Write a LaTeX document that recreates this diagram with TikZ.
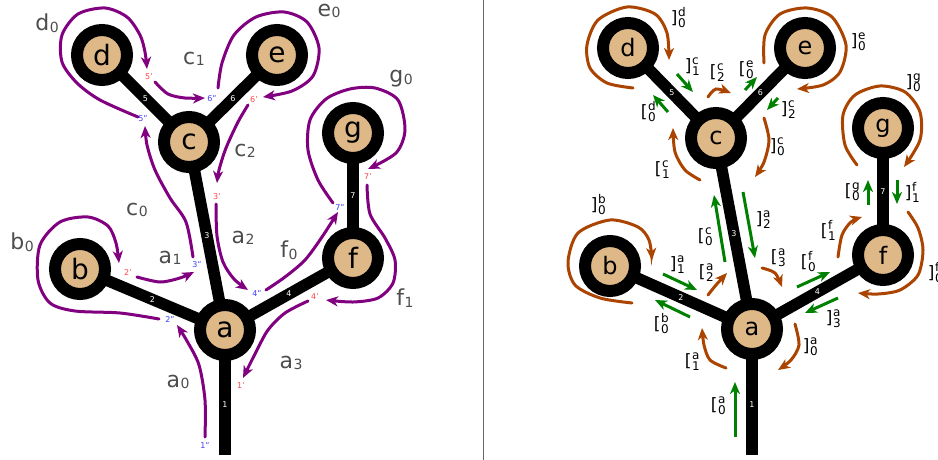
\documentclass[tikz,border=0pt]{standalone}
\usepackage{fontspec}
\setmainfont{DejaVu Sans}
\usetikzlibrary{arrows.meta,backgrounds}
\definecolor{nodetan}{RGB}{222,184,135}
\definecolor{tpurple}{RGB}{128,0,128}
\definecolor{tgreen}{RGB}{0,128,0}
\definecolor{torange}{RGB}{170,68,0}
\definecolor{labgray}{RGB}{77,77,77}
\definecolor{tred}{RGB}{255,70,70}
\definecolor{tblue}{RGB}{60,60,255}
\newcommand{\bk}[3]{#1\kern0.5pt\makebox[0pt][l]{\raisebox{7pt}{\fontsize{12}{12}\selectfont #2}}\makebox[7pt][l]{\raisebox{-4pt}{\fontsize{12}{12}\selectfont #3}}}
\newcommand{\gs}[2]{#1\kern0.5pt\raisebox{-1.5pt}{\fontsize{14}{14}\selectfont #2}}
\begin{document}
\begin{tikzpicture}[x=1pt,y=-1pt,
  vtxl/.style={circle, fill=nodetan, draw=black, line width=12pt, minimum size=50pt, inner sep=0pt, font=\fontsize{28}{28}\selectfont},
  vtxr/.style={vtxl, font=\fontsize{24}{24}\selectfont},
  edg/.style={line width=11.5pt, draw=black},
  elab/.style={text=white, font=\fontsize{8}{8}\selectfont, inner sep=0pt},
  glab/.style={text=labgray, font=\fontsize{22}{22}\selectfont, inner sep=0pt},
  tlr/.style={text=tred, font=\fontsize{8}{8}\selectfont, inner sep=0pt},
  tlb/.style={text=tblue, font=\fontsize{8}{8}\selectfont, inner sep=0pt},
  blab/.style={text=black, font=\fontsize{17}{17}\selectfont, inner sep=0pt},
  tip/.style={-{Stealth[length=12pt,width=10pt,inset=3.5pt]}},
  pur/.style={draw=tpurple, line width=3pt, tip, line cap=round},
  grn/.style={draw=tgreen, line width=3pt, tip},
  org/.style={draw=torange, line width=3pt, tip, line cap=round}]
\useasboundingbox (0,0) rectangle (938,460);
\draw[black!60, line width=1pt] (483,0) -- (483,460);

% ---------------- left tree ----------------
\node[vtxl] (la) at (225,330) {a};
\node[vtxl] (lb) at (80,269) {b};
\node[vtxl] (lc) at (189,142) {c};
\node[vtxl] (ld) at (102,55) {d};
\node[vtxl] (le) at (277,55) {e};
\node[vtxl] (lf) at (353,258) {f};
\node[vtxl] (lg) at (353,133) {g};
\coordinate (l1) at (225,455);
\begin{scope}[on background layer]
\draw[edg] (la.center) -- (l1) node[pos=0.6, elab] {1};
\draw[edg] (la.center) -- (lb.center) node[midway, elab] {2};
\draw[edg] (la.center) -- (lc.center) node[midway, elab] {3};
\draw[edg] (la.center) -- (lf.center) node[midway, elab] {4};
\draw[edg] (lc.center) -- (ld.center) node[midway, elab] {5};
\draw[edg] (lc.center) -- (le.center) node[midway, elab] {6};
\draw[edg] (lf.center) -- (lg.center) node[midway, elab] {7};
\end{scope}

% purple tour
\draw[pur] plot[smooth] coordinates {(205,437) (205,400) (199,365) (187,341) (177,325)};
\draw[pur] plot[smooth] coordinates {(159,319) (120,313) (75,311) (50,303) (38,280) (40,245) (60,222) (88,217) (108,226) (116,243) (119,263)};
\draw[pur] plot[smooth] coordinates {(137,277) (160,282) (180,278) (194,272)};
\draw[pur] plot[smooth] coordinates {(193,257) (186,222) (170,198) (155,170) (147,145) (145,126)};
\draw[pur] plot[smooth] coordinates {(138,117) (100,100) (77,83) (62,62) (62,35) (78,14) (105,8) (127,17) (140,35) (145,52) (147,69)};
\draw[pur] plot[smooth] coordinates {(155,82) (168,94) (185,98) (205,98)};
\draw[pur] plot[smooth] coordinates {(218,88) (222,63) (234,35) (256,17) (284,12) (307,22) (319,48) (313,76) (292,91) (263,97)};
\draw[pur] plot[smooth] coordinates {(248,105) (238,122) (226,148) (219,170) (217,183)};
\draw[pur] plot[smooth] coordinates {(216,204) (217,236) (223,262) (234,279) (248,290)};
\draw[pur] plot[smooth] coordinates {(266,290) (285,277) (305,260) (322,237) (338,212)};
\draw[pur] plot[smooth] coordinates {(333,203) (318,180) (308,150) (310,120) (326,99) (350,89) (375,88) (398,100) (405,130) (396,153) (368,169)};
\draw[pur] plot[smooth] coordinates {(367,185) (370,214) (385,238) (395,260) (393,283) (378,298) (353,302) (326,300)};
\draw[pur] plot[smooth] coordinates {(308,301) (285,313) (268,330) (256,352) (243,378)};

% small end labels
\node[tlb] (p1b) at (205,446) {1''};
\node[tlr] (p1r) at (241,386) {1'};
\node[tlb] (p2b) at (170,320) {2''};
\node[tlr] (p2r) at (128,273) {2'};
\node[tlb] (p3b) at (197,265) {3''};
\node[tlr] (p3r) at (217,197) {3'};
\node[tlb] (p4b) at (257,294) {4''};
\node[tlr] (p4r) at (315,297) {4'};
\node[tlb] (p5b) at (143,119) {5''};
\node[tlr] (p5r) at (149,77) {5'};
\node[tlb] (p6b) at (212,99) {6''};
\node[tlr] (p6r) at (254,100) {6'};
\node[tlb] (p7b) at (340,208) {7''};
\node[tlr] (p7r) at (368,177) {7'};

% gray labels
\node[glab] (gd0) at (47,23) {\gs{d}{0}};
\node[glab] (gc1) at (194,59) {\gs{c}{1}};
\node[glab] (ge0) at (329,11) {\gs{e}{0}};
\node[glab] (gg0) at (401,79) {\gs{g}{0}};
\node[glab] (gc2) at (245,151) {\gs{c}{2}};
\node[glab] (gc0) at (137,210) {\gs{c}{0}};
\node[glab] (gb0) at (22,242) {\gs{b}{0}};
\node[glab] (ga1) at (170,258) {\gs{a}{1}};
\node[glab] (ga2) at (243,238) {\gs{a}{2}};
\node[glab] (gf0) at (289,250) {\gs{f}{0}};
\node[glab] (gf1) at (405,298) {\gs{f}{1}};
\node[glab] (ga3) at (291,363) {\gs{a}{3}};
\node[glab] (ga0) at (178,382) {\gs{a}{0}};

% ---------------- right tree ----------------
\node[vtxr] (ra) at (752,329) {a};
\node[vtxr] (rb) at (610,266) {b};
\node[vtxr] (rc) at (716,138) {c};
\node[vtxr] (rd) at (628,48) {d};
\node[vtxr] (re) at (805,48) {e};
\node[vtxr] (rf) at (883,255) {f};
\node[vtxr] (rg) at (883,128) {g};
\coordinate (r1) at (752,455);
\begin{scope}[on background layer]
\draw[edg] (ra.center) -- (r1) node[pos=0.6, elab] {1};
\draw[edg] (ra.center) -- (rb.center) node[midway, elab] {2};
\draw[edg] (ra.center) -- (rc.center) node[midway, elab] {3};
\draw[edg] (ra.center) -- (rf.center) node[midway, elab] {4};
\draw[edg] (rc.center) -- (rd.center) node[midway, elab] {5};
\draw[edg] (rc.center) -- (re.center) node[midway, elab] {6};
\draw[edg] (rf.center) -- (rg.center) node[midway, elab] {7};
\end{scope}

% green straight arrows
\draw[grn] (735,437) -- (735,382);
\draw[grn] (690,317) -- (655,300);
\draw[grn] (663,274) -- (697,290);
\draw[grn] (725,262) -- (714,195);
\draw[grn] (743,192) -- (755,258);
\draw[grn] (797,287) -- (830,272);
\draw[grn] (838,298) -- (805,313);
\draw[grn] (868,205) -- (868,180);
\draw[grn] (897,180) -- (897,204);
\draw[grn] (745,90) -- (757,77);
\draw[grn] (778,98) -- (767,110);
\draw[grn] (668,112) -- (653,95);
\draw[grn] (677,74) -- (693,92);

% orange curves
\draw[org] plot[smooth] coordinates {(726,368) (710,360) (704,345) (702,328)};
\draw[org] plot[smooth] coordinates {(795,324) (799,345) (791,360) (778,370)};
\draw[org] plot[smooth] coordinates {(708,295) (716,285) (727,273)};
\draw[org] plot[smooth] coordinates {(762,268) (775,273) (782,287)};
\draw[org] plot[smooth] coordinates {(838,257) (842,235) (851,222) (862,217)};
\draw[org] plot[smooth] coordinates {(908,212) (918,228) (923,250) (918,275) (900,290) (878,294) (858,293)};
\draw[org] plot[smooth] coordinates {(857,165) (845,145) (843,115) (855,95) (880,86) (905,92) (920,112) (920,140) (904,167)};
\draw[org] plot[smooth] coordinates {(764,63) (765,35) (780,14) (807,8) (832,17) (846,45) (840,72) (823,85) (797,89)};
\draw[org] plot[smooth] coordinates {(764,118) (769,140) (764,162) (755,177)};
\draw[org] plot[smooth] coordinates {(700,180) (685,170) (675,152) (673,128)};
\draw[org] plot[smooth] coordinates {(633,88) (607,83) (590,68) (587,45) (598,20) (627,7) (655,14) (667,33) (669,60)};
\draw[org] plot[smooth] coordinates {(708,97) (716,89) (731,93)};
\draw[org] plot[smooth] coordinates {(632,303) (600,298) (575,285) (568,262) (578,233) (610,220) (638,227) (649,240) (652,260)};

% bracket labels
\node[blab] (bd0) at (678,18) {\bk{]}{d}{0}};
\node[blab] (bc1) at (692,67) {\bk{]}{c}{1}};
\node[blab] (oc2) at (717,73) {\bk{[}{c}{2}};
\node[blab] (oe0) at (746,70) {\bk{[}{e}{0}};
\node[blab] (be0) at (858,42) {\bk{]}{e}{0}};
\node[blab] (bg0) at (913,83) {\bk{]}{g}{0}};
\node[blab] (od0) at (648,112) {\bk{[}{d}{0}};
\node[blab] (bc2) at (788,110) {\bk{]}{c}{2}};
\node[blab] (bc0) at (777,147) {\bk{]}{c}{0}};
\node[blab] (oc1) at (662,170) {\bk{[}{c}{1}};
\node[blab] (bb0) at (598,205) {\bk{]}{b}{0}};
\node[blab] (oc0) at (705,237) {\bk{[}{c}{0}};
\node[blab] (ba2) at (763,220) {\bk{]}{a}{2}};
\node[blab] (og0) at (852,192) {\bk{[}{g}{0}};
\node[blab] (bf1) at (912,192) {\bk{]}{f}{1}};
\node[blab] (of1) at (828,230) {\bk{[}{f}{1}};
\node[blab] (ba1) at (677,265) {\bk{]}{a}{1}};
\node[blab] (oa2) at (706,273) {\bk{[}{a}{2}};
\node[blab] (oa3) at (778,258) {\bk{[}{a}{3}};
\node[blab] (of0) at (808,262) {\bk{[}{f}{0}};
\node[blab] (bf0) at (935,273) {\bk{]}{f}{0}};
\node[blab] (ob0) at (661,324) {\bk{[}{b}{0}};
\node[blab] (ba3) at (833,319) {\bk{]}{a}{3}};
\node[blab] (ba0) at (810,347) {\bk{]}{a}{0}};
\node[blab] (oa1) at (692,362) {\bk{[}{a}{1}};
\node[blab] (oa0) at (718,406) {\bk{[}{a}{0}};
\end{tikzpicture}
\end{document}
